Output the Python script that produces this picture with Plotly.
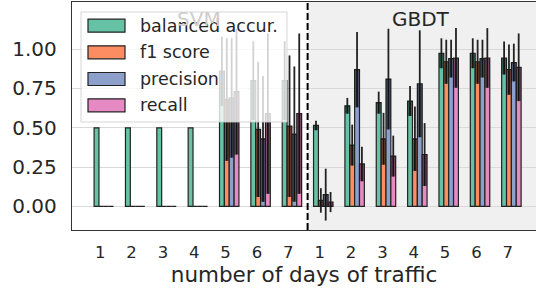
import numpy as np
import plotly.graph_objects as go

# ---------------- data ----------------
days = ["1", "2", "3", "4", "5", "6", "7"]
models = ["SVM", "GBDT"]
metrics = ["balanced accur.", "f1 score", "precision", "recall"]
colors = ["#66c2a5", "#fc8d62", "#8da0cb", "#e78ac3"]

svm_bal = [0.50, 0.50, 0.50, 0.50, 0.86, 0.80, 0.80]
svm_bal_err = [0.0, 0.0, 0.0, 0.0, 0.22, 0.25, 0.25]
svm_f1 = [0.0, 0.0, 0.0, 0.0, 0.68, 0.49, 0.51]
svm_f1_err = [0.0, 0.0, 0.0, 0.0, 0.39, 0.43, 0.45]
svm_prec = [0.0, 0.0, 0.0, 0.0, 0.69, 0.43, 0.46]
svm_prec_err = [0.0, 0.0, 0.0, 0.0, 0.38, 0.40, 0.43]
svm_rec = [0.0, 0.0, 0.0, 0.0, 0.73, 0.59, 0.59]
svm_rec_err = [0.0, 0.0, 0.0, 0.0, 0.40, 0.51, 0.51]

gbdt_bal = [0.515, 0.64, 0.66, 0.67, 0.974, 0.974, 0.944]
gbdt_bal_err = [0.03, 0.05, 0.07, 0.095, 0.095, 0.095, 0.105]
gbdt_f1 = [0.038, 0.39, 0.43, 0.43, 0.92, 0.92, 0.87]
gbdt_f1_err = [0.078, 0.13, 0.165, 0.205, 0.14, 0.14, 0.16]
gbdt_prec = [0.075, 0.87, 0.81, 0.78, 0.94, 0.94, 0.915]
gbdt_prec_err = [0.165, 0.24, 0.32, 0.34, 0.12, 0.12, 0.12]
gbdt_rec = [0.028, 0.27, 0.32, 0.33, 0.944, 0.944, 0.885]
gbdt_rec_err = [0.064, 0.11, 0.13, 0.20, 0.19, 0.19, 0.215]

means = [svm_bal + gbdt_bal, svm_f1 + gbdt_f1, svm_prec + gbdt_prec, svm_rec + gbdt_rec]
errs = [svm_bal_err + gbdt_bal_err, svm_f1_err + gbdt_f1_err,
        svm_prec_err + gbdt_prec_err, svm_rec_err + gbdt_rec_err]

# ---------------- layout constants ----------------
W, H = 536, 293
ML, MR, MT, MB = 72, 0, 2, 63
PW, PH = W - ML - MR, H - MT - MB
FONT = "DejaVu Sans"
TXT = "#262626"

n_groups = len(days) * len(models)
pos = np.arange(n_groups)
bar_w = 0.155
group_w = bar_w * len(metrics)
tick_shift = -0.115
x_range = [-1.015, 13.785]
y_range = [-0.15, 1.30]
split = len(days) - 0.5


def px_x(p):
    return (p - ML) / PW


def px_y(p):
    return 1 - (p - MT) / PH


fig = go.Figure()
for k, (name, col) in enumerate(zip(metrics, colors)):
    m = np.array(means[k], dtype=float)
    e = np.array(errs[k], dtype=float)
    off = -group_w / 2 + k * bar_w
    fig.add_trace(go.Bar(
        x=pos, y=m, width=bar_w, offset=off, name=name,
        marker=dict(color=col, line=dict(color="#222222", width=1.2)),
        error_y=dict(type="data", array=e, color="#222222", thickness=1.8, width=0),
        showlegend=False, hoverinfo="skip",
    ))
    base = np.maximum(m - e, 0)
    fig.add_trace(go.Bar(
        x=pos, y=m - base, base=base, width=bar_w, offset=off,
        marker=dict(color="rgba(0,0,0,0.42)", line=dict(width=0)),
        showlegend=False, hoverinfo="skip",
    ))

shapes = [
    dict(type="rect", xref="x", yref="paper", x0=split, x1=x_range[1], y0=0, y1=1,
         fillcolor="#f0f0f0", line=dict(width=0), layer="below"),
    dict(type="line", xref="x", yref="paper", x0=split, x1=split, y0=0, y1=1,
         line=dict(color="black", width=2, dash="7px,3px"), layer="above"),
]

# manual legend (matplotlib-like)
lg_l, lg_r, lg_t, lg_b = 81, 287, 12, 122
shapes.append(dict(type="rect", xref="paper", yref="paper",
                   x0=px_x(lg_l), x1=px_x(lg_r), y0=px_y(lg_b), y1=px_y(lg_t),
                   fillcolor="rgba(255,255,255,0.8)",
                   line=dict(color="rgba(204,204,204,0.8)", width=1), layer="above"))
annotations = []
entry_y = [25.7, 52.3, 79.0, 105.3]
for name, col, cy in zip(metrics, colors, entry_y):
    shapes.append(dict(type="rect", xref="paper", yref="paper",
                       x0=px_x(88), x1=px_x(125), y0=px_y(cy + 6.5), y1=px_y(cy - 6.5),
                       fillcolor=col, line=dict(color="#222222", width=1.2), layer="above"))
    annotations.append(dict(xref="paper", yref="paper", x=px_x(138), y=px_y(cy),
                            xanchor="left", yanchor="middle", text=name, showarrow=False,
                            font=dict(family=FONT, size=17.5, color=TXT)))

annotations.append(dict(xref="x", yref="y", x=3.02, y=1.19, text=models[0], showarrow=False,
                        xanchor="center", yanchor="middle",
                        font=dict(family=FONT, size=20, color="#cdcdcd")))
annotations.append(dict(xref="x", yref="y", x=10.13, y=1.19, text=models[1], showarrow=False,
                        xanchor="center", yanchor="middle",
                        font=dict(family=FONT, size=20, color=TXT)))

fig.update_layout(
    width=W, height=H,
    margin=dict(l=ML, r=MR, t=MT, b=MB, autoexpand=False),
    barmode="overlay",
    paper_bgcolor="white", plot_bgcolor="white",
    font=dict(family=FONT, color=TXT),
    shapes=shapes, annotations=annotations,
    hovermode=False,
    xaxis=dict(range=x_range, tickvals=pos + tick_shift, ticktext=days * len(models),
               tickfont=dict(size=16.5, color=TXT), showgrid=False, zeroline=False,
               showline=True, mirror=True, linecolor="#333333", linewidth=1.3,
               ticks="", ticklabelstandoff=7, automargin=False,
               title=dict(text="number of days of traffic", font=dict(size=21.5, color=TXT),
                          standoff=5)),
    yaxis=dict(range=y_range, tickvals=[0, 0.25, 0.5, 0.75, 1.0], tickformat=".2f",
               tickfont=dict(size=20, color=TXT), showgrid=True, gridcolor="#d9d9d9",
               gridwidth=1, zeroline=False, showline=True, mirror=True,
               linecolor="#333333", linewidth=1.3, ticks="", ticklabelstandoff=10,
               automargin=False),
)

fig.write_html("out.html", config={"displayModeBar": False, "staticPlot": True},
               post_script="document.body.style.margin='0';")
